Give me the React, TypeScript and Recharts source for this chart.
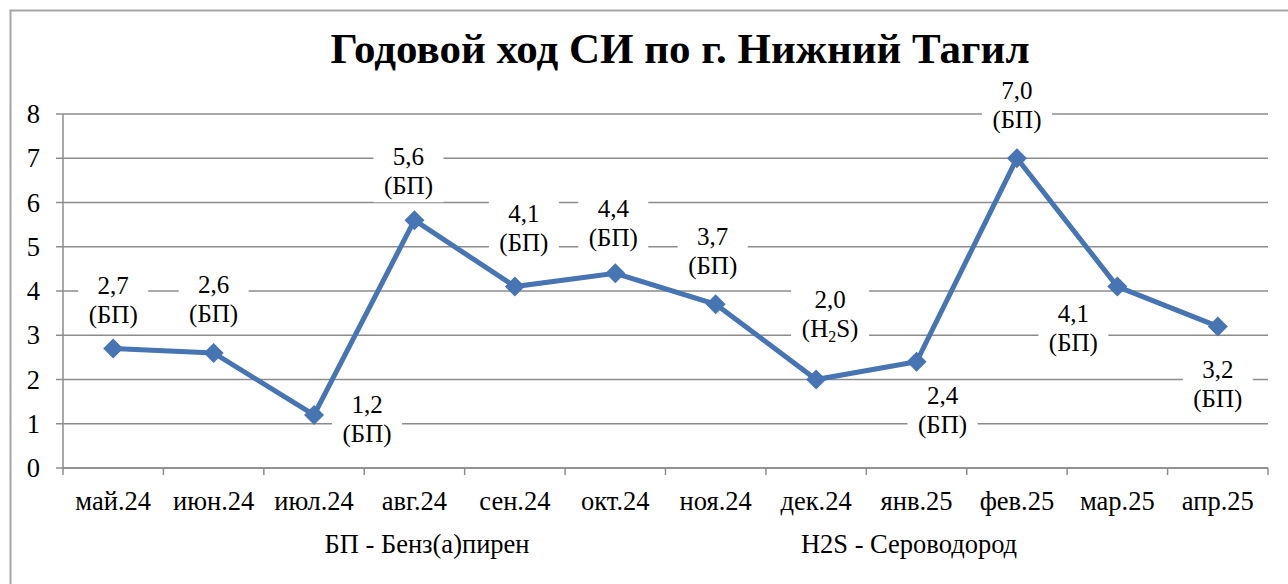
import React from 'react';
import { LineChart, Line, XAxis, YAxis, CartesianGrid, LabelList, Customized } from 'recharts';

const categories = ['май.24', 'июн.24', 'июл.24', 'авг.24', 'сен.24', 'окт.24', 'ноя.24', 'дек.24', 'янв.25', 'фев.25', 'мар.25', 'апр.25'];
const values = [2.7, 2.6, 1.2, 5.6, 4.1, 4.4, 3.7, 2.0, 2.4, 7.0, 4.1, 3.2];
const substances = ['БП', 'БП', 'БП', 'БП', 'БП', 'БП', 'БП', 'H2S', 'БП', 'БП', 'БП', 'БП'];
const yTicks = [0, 1, 2, 3, 4, 5, 6, 7, 8];
const notes = ['БП - Бенз(а)пирен', 'H2S - Сероводород'];
const title = 'Годовой ход СИ по г. Нижний Тагил';

// label placement relative to the marker: [dx, dy of first baseline]
const labelOffsets = [
  [0, -55], [0, -60], [53, -2], [-6, -55], [9, -65], [-2, -56],
  [-3, -59], [14, -72], [26, 42], [0, -59], [-44, 35], [0, 52],
];

const W = 1288;
const H = 584;
const PLOT_LEFT = 63;
const PLOT_RIGHT = 1268;
const BAND = (PLOT_RIGHT - PLOT_LEFT) / categories.length;

const FONT = "'Times New Roman', 'Liberation Serif', serif";
const LINE_COLOR = '#4774b2';
const GRID = '#8c8c8c';

const data = categories.map((month, i) => ({
  pos: i + 0.5,
  month,
  value: values[i],
  substance: substances[i],
}));

const Diamond = (props: any) => {
  const { cx, cy } = props;
  if (cx == null || cy == null) return null;
  const r = 10;
  return <path d={`M${cx},${cy - r} L${cx + r},${cy} L${cx},${cy + r} L${cx - r},${cy} Z`} fill={LINE_COLOR} />;
};

const DataLabel = (props: any) => {
  const { x, y, index, value } = props;
  if (x == null || y == null) return null;
  const [dx, dy] = labelOffsets[index];
  const cx = x + dx;
  const b1 = y + dy;
  const b2 = b1 + 29;
  const sub = data[index].substance;
  const w = sub === 'H2S' ? 78 : 70;
  const txt = Number(value).toFixed(1).replace('.', ',');
  return (
    <g fontFamily={FONT} fontSize={25} fill="#000">
      <rect x={cx - w / 2} y={b1 - 21} width={w} height={58} fill="#fff" />
      <text x={cx} y={b1} textAnchor="middle">{txt}</text>
      {sub === 'H2S' ? (
        <text x={cx} y={b2} textAnchor="middle">
          (H<tspan dy={5} fontSize={16}>2</tspan><tspan dy={-5}>S)</tspan>
        </text>
      ) : (
        <text x={cx} y={b2} textAnchor="middle">({sub})</text>
      )}
    </g>
  );
};

const MonthTick = (props: any) => {
  const { x, payload } = props;
  const i = payload.value;
  if (i >= categories.length) return null;
  return (
    <text x={x + BAND / 2} y={510} textAnchor="middle" fontFamily={FONT} fontSize={26.5} fill="#000">
      {categories[i]}
    </text>
  );
};

const NumTick = (props: any) => {
  const { x, y, payload } = props;
  return (
    <text x={x} y={y} dy={9} textAnchor="end" fontFamily={FONT} fontSize={26.5} fill="#000">
      {payload.value}
    </text>
  );
};

const Decor = () => (
  <g fontFamily={FONT} fill="#000">
    <path d={`M10.5,${H} V10.5 H${W}`} fill="none" stroke="#a6a6a6" strokeWidth={2} />
    <text x={680} y={63} textAnchor="middle" fontSize={43} fontWeight="bold">{title}</text>
    <text x={427} y={553} textAnchor="middle" fontSize={26.5}>{notes[0]}</text>
    <text x={909} y={553} textAnchor="middle" fontSize={26.5}>{notes[1]}</text>
  </g>
);

export default function App() {
  return (
    <div style={{ position: 'absolute', left: 0, top: 0, width: W, height: H, background: '#fff' }}>
      <LineChart width={W} height={H} data={data} margin={{ top: 114, right: W - PLOT_RIGHT, bottom: 56, left: 13 }}>
        <Customized component={Decor} />
        <CartesianGrid vertical={false} stroke={GRID} strokeWidth={1.5} />
        <XAxis
          type="number"
          dataKey="pos"
          domain={[0, categories.length]}
          ticks={categories.map((_, i) => i).concat([categories.length])}
          interval={0}
          height={60}
          stroke={GRID}
          strokeWidth={1.5}
          tickSize={7}
          tick={<MonthTick />}
        />
        <YAxis
          type="number"
          domain={[0, 8]}
          ticks={yTicks}
          interval={0}
          width={50}
          stroke={GRID}
          strokeWidth={1.5}
          tickSize={7}
          tickMargin={16}
          tick={<NumTick />}
        />
        <Line
          dataKey="value"
          stroke={LINE_COLOR}
          strokeWidth={5}
          dot={<Diamond />}
          activeDot={false}
          isAnimationActive={false}
        >
          <LabelList dataKey="value" content={<DataLabel />} />
        </Line>
      </LineChart>
    </div>
  );
}
